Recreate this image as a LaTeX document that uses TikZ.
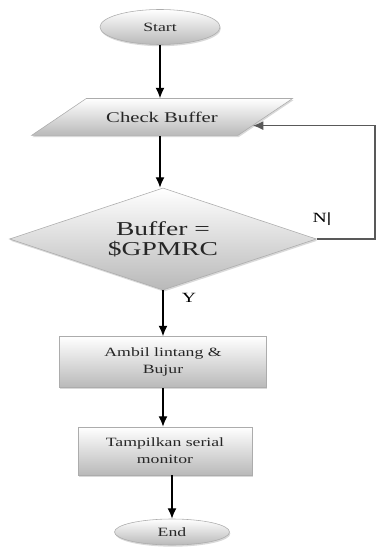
\documentclass[tikz,border=0pt]{standalone}
\usepackage{fontspec}
\setmainfont{Liberation Serif}[FakeStretch=1.4]
\usepackage{tikz}
\usetikzlibrary{shapes.geometric,calc,shadows,arrows.meta}

\begin{document}
\begin{tikzpicture}[>={Latex[length=2.6mm,width=2.2mm]},thick,
   graybody/.style={top color=white,bottom color=gray!55,draw=gray!65,thin,text=black!85,
     drop shadow={opacity=0.3,shadow xshift=0.6pt,shadow yshift=-1.2pt}},
   term/.style={ellipse,graybody,inner sep=0pt,font=\fontsize{9}{11}\selectfont},
   io/.style={trapezium,trapezium left angle=34,trapezium right angle=146,
     graybody,inner xsep=0.5cm,inner ysep=0.33cm,font=\fontsize{10.5}{12}\selectfont},
   decision/.style={diamond,aspect=3,graybody,inner sep=0pt,align=center,font=\fontsize{14}{14}\selectfont},
   procbox/.style={rectangle,graybody,inner sep=0pt,align=center,font=\fontsize{9}{12}\selectfont},
   flow/.style={->,black}]
   \useasboundingbox (0,0) rectangle (9.425,-13.775);
   % Nodes
   \node[term,minimum width=3cm,minimum height=0.875cm] (start) at (4.0,-0.675) {Start};
   \node[io] (check) at (4.05,-2.925) {Check Buffer};
   \node[decision,minimum width=7.675cm,minimum height=2.55cm] (dec) at (4.075,-5.975) {Buffer =\\\$GPMRC};
   \node[procbox,minimum width=5.175cm,minimum height=1.275cm] (ambil) at (4.075,-9.05) {Ambil lintang \&\\Bujur};
   \node[procbox,minimum width=4.35cm,minimum height=1.2cm] (tampil) at (4.125,-11.275) {Tampilkan serial\\monitor};
   \node[term,minimum width=2.875cm,minimum height=0.65cm] (end) at (4.3,-13.3) {End};
   % Labels
   \node[font=\fontsize{10}{12}\selectfont] (nlab) at (8.05,-5.475) {N\textbf{|}};
   \node[font=\fontsize{10}{12}\selectfont] (ylab) at (4.725,-7.45) {Y};
   % Arrows
   \draw[flow] (start.south) -- (start.south |- check.north);
   \draw[flow] (start.south |- check.south) -- (start.south |- dec.north);
   \draw[flow] (dec.south) -- (dec.south |- ambil.north);
   \draw[flow] (ambil.south) -- (ambil.south |- tampil.north);
   \draw[flow] (end.north |- tampil.south) -- (end.north);
   % Back to check
   \coordinate (rt) at (9.375,0);
   \coordinate (in) at ($(check.bottom right corner)!0.27!(check.top right corner)$);
   \draw[flow,gray!70!black] (dec.east) -- (dec.east -| rt) |- (in);
\end{tikzpicture}
\end{document}
